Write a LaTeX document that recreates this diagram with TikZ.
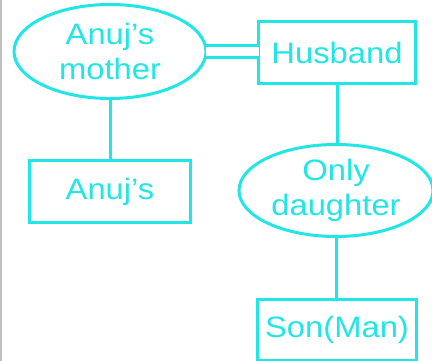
\documentclass[tikz,border=0pt]{standalone}
\usepackage{fontspec}
\setmainfont{Liberation Sans}[FakeStretch=1.11]
\usetikzlibrary{shapes.geometric}
\definecolor{cy}{RGB}{34,230,230}
\begin{document}
\begin{tikzpicture}[x=1pt,y=1pt,
  every node/.style={draw=cy,line width=3pt,text=cy,inner sep=0pt,outer sep=0pt,
    font=\fontsize{29.5}{35}\selectfont,align=center},
  ell/.style={ellipse},
  boxn/.style={rectangle},
  conn/.style={draw=cy,line width=3pt}]
\useasboundingbox (0,0) rectangle (432,361);
\fill[white] (0,0) rectangle (432,361);
\fill[black!25] (0,0) rectangle (1.5,361);
\node[ell,minimum width=192,minimum height=94] (mother) at (110,309.5) {Anuj’s\\mother};
\node[boxn,minimum width=157,minimum height=62] (husband) at (337,308) {Husband};
\node[boxn,minimum width=161,minimum height=62] (anujs) at (110,169.5) {Anuj’s};
\node[ell,minimum width=194,minimum height=92] (daughter) at (336,170.5) {Only\\daughter};
\node[boxn,minimum width=159,minimum height=61] (son) at (337,31) {Son(Man)};
\draw[conn,double=white,double distance=8.5pt] (mother.east) -- (mother.east -| husband.west);
\draw[conn] (mother.south) -- (anujs.north);
\draw[conn] (husband.south) -- (husband.south |- daughter.north);
\draw[conn] (daughter.south) -- (daughter.south |- son.north);
\end{tikzpicture}
\end{document}
